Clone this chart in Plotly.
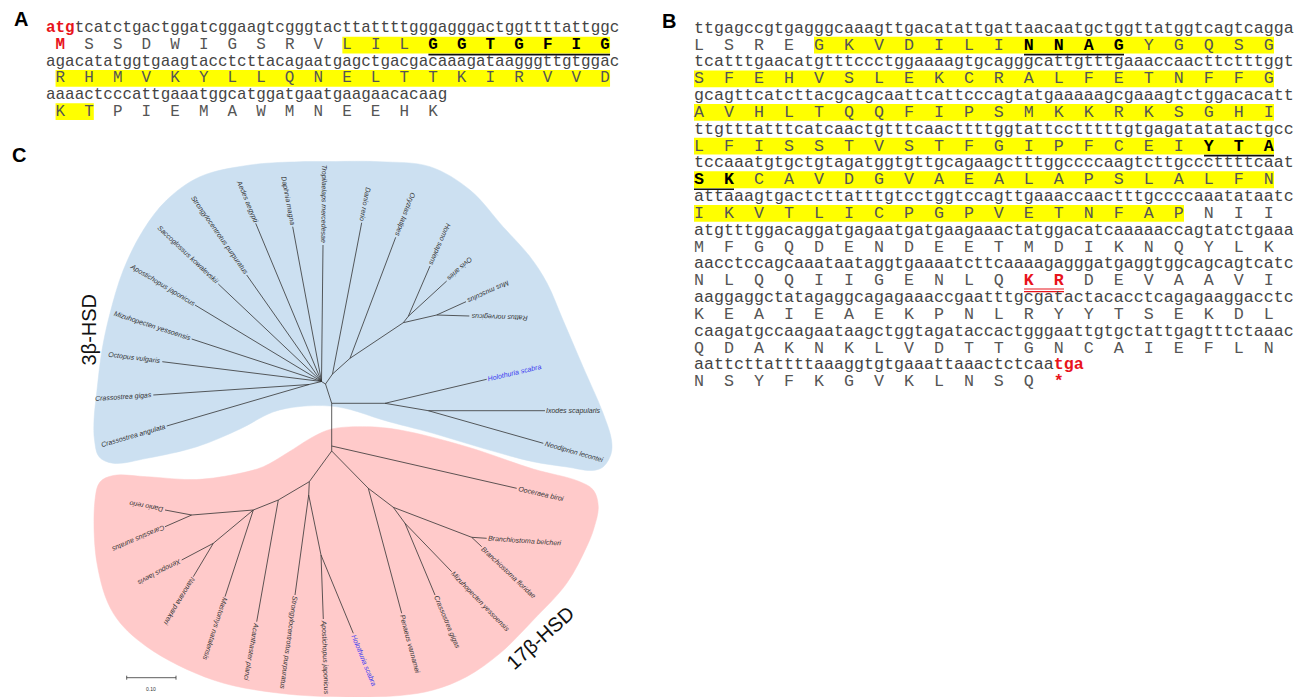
import math
import plotly.graph_objects as go

W, H = 1311, 697

# ---------------- Panel A : sequence data ----------------
A_NT = [
    "atgtcatctgactggatcggaagtcgggtacttattttgggagggactggttttattggc",
    "agacatatggtgaagtacctcttacagaatgagctgacgacaaagataagggttgtggac",
    "aaaactcccattgaaatggcatggatgaatgaagaacacaag",
]
A_AA = [
    "MSSDWIGSRVLILGGTGFIG",
    "RHMVKYLLQNELTTKIRVVD",
    "KTPIEMAWMNEEHK",
]
A_HIGHLIGHT = [(0, 10, 19), (1, 0, 19), (2, 0, 1)]     # (row, first aa, last aa)
A_MOTIF = [(0, 13, 19)]                                 # bold + underlined
A_RED_CODON = [(0, 0)]                                  # start codon (row, codon)

# ---------------- Panel B : sequence data ----------------
B_NT = [
    "ttgagccgtgagggcaaagttgacatattgattaacaatgctggttatggtcagtcagga",
    "tcatttgaacatgtttccctggaaaagtgcagggcattgtttgaaaccaacttctttggt",
    "gcagttcatcttacgcagcaattcattcccagtatgaaaaagcgaaagtctggacacatt",
    "ttgtttatttcatcaactgtttcaacttttggtattcctttttgtgagatatatactgcc",
    "tccaaatgtgctgtagatggtgttgcagaagctttggccccaagtcttgcccttttcaat",
    "attaaagtgactcttatttgtcctggtccagttgaaaccaactttgccccaaatataatc",
    "atgtttggacaggatgagaatgatgaagaaactatggacatcaaaaaccagtatctgaaa",
    "aacctccagcaaataataggtgaaaatcttcaaaagagggatgaggtggcagcagtcatc",
    "aaggaggctatagaggcagagaaaccgaatttgcgatactacacctcagagaaggacctc",
    "caagatgccaagaataagctggtagataccactgggaattgtgctattgagtttctaaac",
    "aattcttattttaaaggtgtgaaattaaactctcaatga",
]
B_AA = [
    "LSREGKVDILINNAGYGQSG",
    "SFEHVSLEKCRALFETNFFG",
    "AVHLTQQFIPSMKKRKSGHI",
    "LFISSTVSTFGIPFCEIYTA",
    "SKCAVDGVAEALAPSLALFN",
    "IKVTLICPGPVETNFAPNII",
    "MFGQDENDEETMDIKNQYLK",
    "NLQQIIGENLQKRDEVAAVI",
    "KEAIEAEKPNLRYYTSEKDL",
    "QDAKNKLVDTTGNCAIEFLN",
    "NSYFKGVKLNSQ*",
]
B_HIGHLIGHT = [(0, 4, 19), (1, 0, 19), (2, 0, 19), (3, 0, 19), (4, 0, 19), (5, 0, 16)]
B_MOTIF = [(0, 11, 14), (3, 17, 19), (4, 0, 1)]
B_CLEAVAGE = [(7, 11, 12)]                              # red, double underlined
B_RED_CODON = [(10, 12)]                                # stop codon

# ---------------- Panel C : tree data ----------------
INNER_ID = ["R3", "Na", "Ninv", "Ncr", "Nvert", "Nv2", "Nmam", "Nho", "Nmr", "Nl1", "Nl2",
            "R17", "Nb", "NB", "NC", "NH", "ND", "NE", "NG", "NF", "NI", "NJ", "NL", "NK"]
INNER_PARENT = [None, "R3", "Na", "Ninv", "Na", "Nvert", "Nv2", "Nmam", "Nmam", "R3", "Nl1",
                "R3", "R17", "Nb", "NB", "NC", "NB", "ND", "NE", "NE", "Nb", "NI", "NJ", "NJ"]
INNER_X = [331.7, 325.5, 321.5, 309.0, 332.5, 350.0, 403.3, 408.3, 436.7, 385.0, 428.3,
           331.7, 331.7, 309.3, 308.7, 321.0, 278.3, 253.3, 191.7, 213.3, 368.3, 393.3, 471.7, 405.0]
INNER_Y = [403.3, 384.0, 381.5, 384.5, 374.0, 358.3, 322.7, 316.3, 315.0, 403.3, 410.7,
           446.0, 451.0, 481.7, 495.0, 555.0, 500.0, 510.0, 515.0, 543.3, 488.3, 507.3, 537.3, 523.3]

TIP_LABEL = [
    "Tropilaelaps mercedesae", "Daphnia magna", "Aedes aegypti", "Strongylocentrotus purpuratus",
    "Saccoglossus kowalevskii", "Apostichopus japonicus", "Mizuhopecten yessoensis",
    "Octopus vulgaris", "Crassostrea gigas", "Crassostrea angulata", "Danio rerio",
    "Oryzias latipes", "Homo sapiens", "Ovis aries", "Mus musculus", "Rattus norvegicus",
    "Holothuria scabra", "Ixodes scapularis", "Neodiprion lecontei",
    "Ooceraea biroi", "Branchiostoma belcheri", "Branchiostoma floridae",
    "Mizuhopecten yessoensis", "Crassostrea gigas", "Penaeus vannamei", "Holothuria scabra",
    "Apostichopus japonicus", "Strongylocentrotus purpuratus", "Acanthaster planci",
    "Mastomys natalensis", "Nanorana parkeri", "Xenopus laevis", "Carassius auratus",
    "Danio rerio",
]
TIP_PARENT = [
    "Ninv", "Ninv", "Ninv", "Ninv", "Ninv", "Ninv", "Ninv", "Ninv", "Ncr", "Ncr", "Nvert",
    "Nv2", "Nho", "Nho", "Nmr", "Nmr", "Nl1", "Nl2", "Nl2",
    "R17", "NL", "NL", "NK", "NK", "NI", "NH", "NH", "NC", "ND", "NE", "NF", "NF", "NG", "NG",
]
TIP_X = [323.0, 292.7, 255.7, 246.7, 218.3, 195.0, 191.7, 162.3, 153.3, 166.7, 361.7,
         395.7, 430.0, 446.7, 466.0, 469.3, 486.7, 545.0, 543.3,
         516.7, 486.7, 481.7, 451.7, 435.0, 401.7, 353.3, 323.3, 295.0, 256.7, 225.0, 193.3,
         181.7, 165.0, 165.0]
TIP_Y = [245.0, 226.7, 223.3, 275.0, 284.0, 305.0, 339.0, 361.7, 395.0, 426.0, 222.7,
         237.3, 266.0, 281.0, 301.7, 316.0, 379.3, 410.7, 443.3,
         488.3, 538.3, 546.7, 571.7, 595.0, 613.3, 633.3, 619.0, 595.0, 621.7, 596.7, 576.7,
         560.0, 526.7, 510.0]
TIP_FLIP = [1] * 16 + [0] * 18
TIP_QUERY = [0] * 16 + [1, 0, 0] + [0] * 6 + [1] + [0] * 8

CLADES = ["3β-HSD", "17β-HSD"]
SCALE_LABEL = "0.10"

# ---------------- outlines of the clade backgrounds ----------------
BLUE_OUTLINE = [(300, 161.7), (330, 161.5), (380, 161.7), (430, 166.7), (470, 190), (503, 226.7),
                (530, 256.7), (547, 283), (563, 320), (583, 366.7), (603, 413), (611.5, 440),
                (611, 454), (603, 467), (592, 470.5), (567, 467), (533, 461.7), (483, 448.3),
                (433, 433.3), (383, 420), (350, 409.5), (330, 406), (300, 406.5), (273, 412),
                (240, 429), (197, 446.7), (147, 458.3), (113, 463.3), (99, 456.7), (94.5, 440),
                (94, 420), (97, 390), (102, 350), (110, 313.3), (123.3, 270), (143.3, 230),
                (166.7, 200), (200, 176.7), (250, 165)]
PINK_OUTLINE = [(331.7, 429), (366.7, 426.7), (400, 430), (466.7, 446.7), (533.3, 469),
                (578, 481), (593.3, 490), (598.3, 506.7), (594, 528), (586.7, 546.7),
                (566.7, 583.3), (533.3, 620), (500, 653.3), (466.7, 676.7), (433.3, 690),
                (400, 695.5), (346.7, 697), (280, 693.3), (213.3, 680), (146.7, 646.7),
                (113.3, 613.3), (97, 563.3), (95, 500), (100, 482), (113.3, 475.5),
                (146.7, 476.7), (196.7, 479.5), (240, 473.3), (263.3, 466.7), (286.7, 453.3),
                (313.3, 436.7)]

# ---------------- style ----------------
MONO = "Liberation Mono, Courier New, monospace"
SANS = "Liberation Sans, Arial, sans-serif"
RED = "#e8141c"
YELLOW = "#ffff00"
NT_COL = "#444444"
AA_COL = "#555555"
BLUE_FILL = "#cce0f1"
PINK_FILL = "#ffcaca"
BRANCH = "#333333"

fig = go.Figure()
shapes = []
annotations = []


def seq_panel(nt_rows, aa_rows, x0, cw, fs, y0, pitch, aa_off, highlight, motif,
              red_codon, cleavage):
    motif_set = {(r, i) for r, s, e in motif for i in range(s, e + 1)}
    cleave_set = {(r, i) for r, s, e in cleavage for i in range(s, e + 1)}
    red_set = set(red_codon)
    for r, (nt, aa) in enumerate(zip(nt_rows, aa_rows)):
        y_nt = y0 + pitch * (2 * r)
        y_aa = y0 + pitch * (2 * r + 1)
        for rr, s, e in highlight:
            if rr == r:
                shapes.append(dict(type="rect", xref="x", yref="y", layer="below",
                                   x0=x0 + (3 * s + aa_off) * cw, x1=x0 + (3 * e + aa_off + 1) * cw,
                                   y0=y_aa - pitch / 2, y1=y_aa + pitch / 2,
                                   fillcolor=YELLOW, line=dict(width=0)))
        parts = []
        for c in range(0, len(nt), 3):
            cod = nt[c:c + 3]
            if (r, c // 3) in red_set:
                parts.append(f"<span style='color:{RED}'><b>{cod}</b></span>")
            else:
                parts.append(cod)
        annotations.append(dict(x=x0, y=y_nt, xref="x", yref="y", text="".join(parts),
                                xanchor="left", yanchor="middle", showarrow=False,
                                borderpad=0, borderwidth=0,
                                font=dict(family=MONO, size=fs, color=NT_COL)))
        chars = ["\u00a0"] * (3 * len(aa))
        for i, a in enumerate(aa):
            if (r, i) in red_set or (r, i) in cleave_set:
                tok = f"<span style='color:{RED}'><b>{a}</b></span>"
            elif (r, i) in motif_set:
                tok = f"<span style='color:#000000'><b>{a}</b></span>"
            else:
                tok = a
            chars[3 * i + aa_off] = tok
        annotations.append(dict(x=x0, y=y_aa, xref="x", yref="y", text="".join(chars),
                                xanchor="left", yanchor="middle", showarrow=False,
                                borderpad=0, borderwidth=0,
                                font=dict(family=MONO, size=fs, color=AA_COL)))
        for rr, s, e in motif:
            if rr == r:
                shapes.append(dict(type="line", xref="x", yref="y",
                                   x0=x0 + (3 * s + aa_off) * cw, x1=x0 + (3 * e + aa_off + 1) * cw,
                                   y0=y_aa + 9.5, y1=y_aa + 9.5,
                                   line=dict(color="#111111", width=1.7)))
        for rr, s, e in cleavage:
            if rr == r:
                for dy in (8.2, 10.9):
                    shapes.append(dict(type="line", xref="x", yref="y",
                                       x0=x0 + (3 * s + aa_off) * cw, x1=x0 + (3 * e + aa_off + 1) * cw,
                                       y0=y_aa + dy, y1=y_aa + dy,
                                       line=dict(color=RED, width=1.1)))


seq_panel(A_NT, A_AA, 46.0, 9.56, 15.93, 28.4, 16.65, 1, A_HIGHLIGHT, A_MOTIF, A_RED_CODON, [])
seq_panel(B_NT, B_AA, 694.0, 10.0, 16.67, 28.3, 16.83, 0, B_HIGHLIGHT, B_MOTIF, B_RED_CODON, B_CLEAVAGE)

# ---------------- clade backgrounds ----------------
for pts, col in ((BLUE_OUTLINE, BLUE_FILL), (PINK_OUTLINE, PINK_FILL)):
    xs = [p[0] for p in pts] + [pts[0][0]]
    ys = [p[1] for p in pts] + [pts[0][1]]
    fig.add_trace(go.Scatter(x=xs, y=ys, mode="lines", fill="toself", fillcolor=col,
                             line=dict(width=0.5, color=col, shape="spline", smoothing=1.0),
                             hoverinfo="skip", showlegend=False))

# ---------------- tree branches ----------------
pos = {n: (x, y) for n, x, y in zip(INNER_ID, INNER_X, INNER_Y)}
bx, by = [], []
for n, p in zip(INNER_ID, INNER_PARENT):
    if p is not None:
        bx += [pos[p][0], pos[n][0], None]
        by += [pos[p][1], pos[n][1], None]
for p, x, y in zip(TIP_PARENT, TIP_X, TIP_Y):
    bx += [pos[p][0], x, None]
    by += [pos[p][1], y, None]
fig.add_trace(go.Scatter(x=bx, y=by, mode="lines", line=dict(color=BRANCH, width=0.8),
                         hoverinfo="skip", showlegend=False))

# ---------------- tip labels ----------------
AW = {}
for ch, w in zip("abcdefghijklmnopqrstuvwxyz",
                 [556, 556, 500, 556, 556, 278, 556, 556, 222, 222, 500, 222, 833, 556, 556, 556,
                  556, 333, 500, 278, 556, 500, 722, 500, 500, 500]):
    AW[ch] = w / 1000
for ch, w in zip("ABCDEFGHIJKLMNOPQRSTUVWXYZ",
                 [667, 667, 722, 722, 667, 611, 778, 722, 278, 500, 667, 556, 833, 722, 778, 667,
                  778, 722, 667, 611, 722, 667, 944, 667, 667, 611]):
    AW[ch] = w / 1000
AW[" "] = 0.278
LFS = 7.0
for lab, p, x, y, flip, q in zip(TIP_LABEL, TIP_PARENT, TIP_X, TIP_Y, TIP_FLIP, TIP_QUERY):
    px, py = pos[p]
    dx, dy = x - px, y - py
    d = math.hypot(dx, dy)
    ux, uy = dx / d, dy / d
    L = sum(AW.get(c, 0.556) for c in lab) * LFS
    cx, cy = x + ux * (1.5 + L / 2), y + uy * (1.5 + L / 2)
    ang = math.degrees(math.atan2(uy, ux)) + (180 if flip else 0)
    while ang > 180:
        ang -= 360
    while ang <= -180:
        ang += 360
    annotations.append(dict(x=cx, y=cy, xref="x", yref="y", text=f"<i>{lab}</i>",
                            textangle=ang, xanchor="center", yanchor="middle", showarrow=False,
                            borderpad=0, borderwidth=0,
                            font=dict(family=SANS, size=LFS, color="#3a3af0" if q else "#333333")))

# ---------------- scale bar ----------------
fig.add_trace(go.Scatter(x=[126.7, 176.0, None, 126.7, 126.7, None, 176.0, 176.0],
                         y=[677.7, 677.7, None, 675.7, 679.7, None, 675.7, 679.7],
                         mode="lines", line=dict(color="#333333", width=0.8),
                         hoverinfo="skip", showlegend=False))
annotations.append(dict(x=151.3, y=688.5, xref="x", yref="y", text=SCALE_LABEL, showarrow=False,
                        font=dict(family=SANS, size=5, color="#333333")))

# ---------------- clade labels & panel letters ----------------
annotations.append(dict(x=88.5, y=330, xref="x", yref="y", text=CLADES[0], textangle=-90,
                        showarrow=False, font=dict(family=SANS, size=20, color="#111111")))
annotations.append(dict(x=540, y=638, xref="x", yref="y", text=CLADES[1], textangle=-42,
                        showarrow=False, font=dict(family=SANS, size=20, color="#111111")))
for t, x, y in (("A", 20.5, 19.0), ("B", 669.0, 21.3), ("C", 19.0, 155.0)):
    annotations.append(dict(x=x, y=y, xref="x", yref="y", text=f"<b>{t}</b>", showarrow=False,
                            font=dict(family=SANS, size=20, color="#000000")))

fig.update_layout(
    width=W, height=H, margin=dict(l=0, r=0, t=0, b=0),
    paper_bgcolor="white", plot_bgcolor="white",
    xaxis=dict(range=[0, W], visible=False, fixedrange=True),
    yaxis=dict(range=[H, 0], visible=False, fixedrange=True),
    shapes=shapes, annotations=annotations, showlegend=False,
)

fig.write_html("out.html", config={"displayModeBar": False},
               post_script="document.body.style.margin='0px';")
